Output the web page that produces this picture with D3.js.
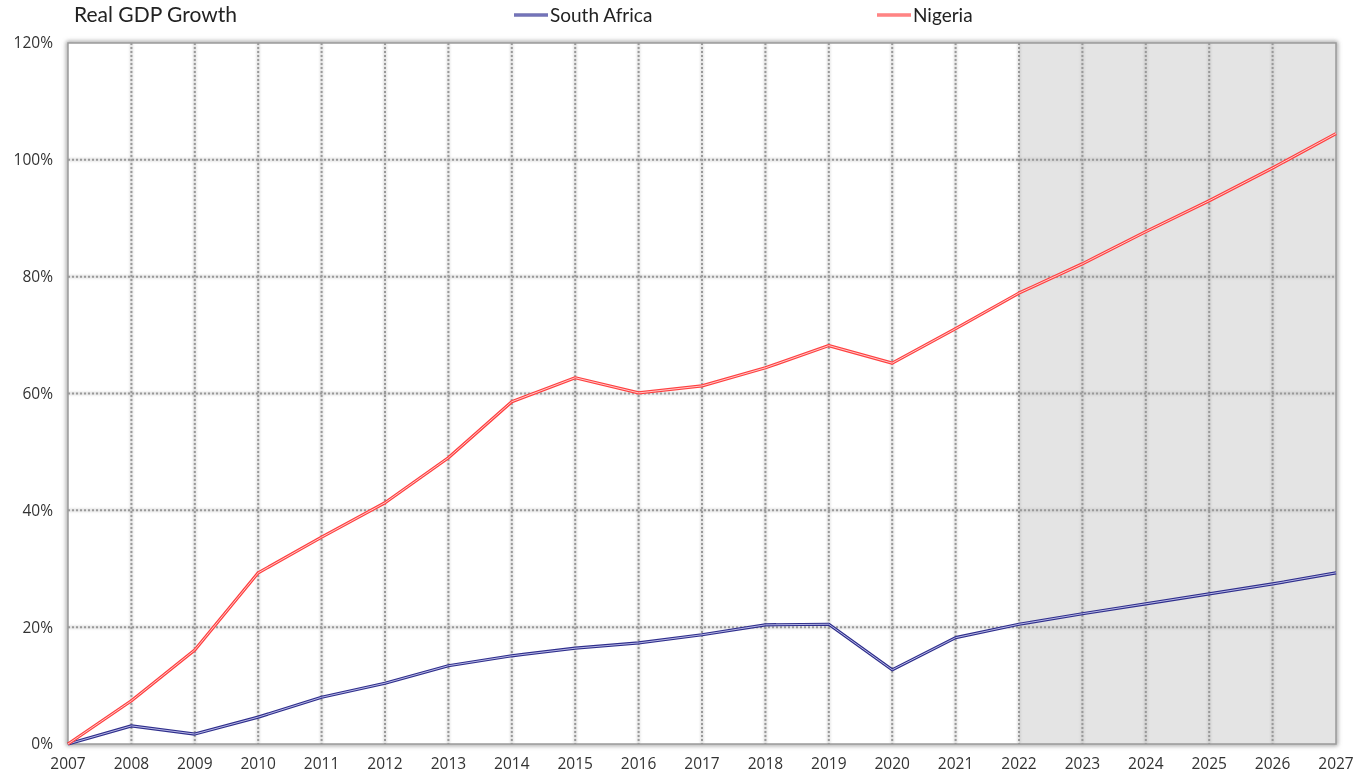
<!DOCTYPE html>
<html><head><meta charset="utf-8">
<script src="https://cdn.jsdelivr.net/npm/d3@7"></script>
<style>
body{margin:0;background:#fff;}
text{font-family:"Open Sans","Noto Sans",sans-serif;fill:#333;}
.hd{font-family:Lato,"Open Sans",sans-serif;fill:#222;}
</style></head>
<body><svg id="c" width="1356" height="773"></svg>
<script>
const years = d3.range(2007, 2028);
const southAfrica = [0,3.1,1.7,4.6,8.0,10.4,13.4,15.1,16.4,17.3,18.7,20.4,20.5,12.7,18.2,20.5,22.3,24.0,25.7,27.4,29.3];
const nigeria = [0,7.4,16.1,29.3,35.4,41.3,49.0,58.6,62.7,60.1,61.3,64.4,68.2,65.2,71.1,77.2,82.2,87.7,93.0,98.6,104.5];
const yTicks = [0,20,40,60,80,100,120];
const forecastStart = 2022;
const title = "Real GDP Growth";
const seriesNames = ["South Africa","Nigeria"];

const svg = d3.select("#c");
const L=68,R=1336,T=43,B=744;
const x = d3.scaleLinear().domain([2007,2027]).range([L,R]);
const y = d3.scaleLinear().domain([0,120]).range([B,T]);

const defs = svg.append("defs");
const f = defs.append("filter").attr("id","sh").attr("x","-5%").attr("y","-5%").attr("width","110%").attr("height","110%");
f.append("feGaussianBlur").attr("stdDeviation",2);
const f2 = defs.append("filter").attr("id","sh2").attr("x","-20%").attr("y","-20%").attr("width","140%").attr("height","140%");
f2.append("feGaussianBlur").attr("stdDeviation",1.2);

svg.append("rect").attr("x",L).attr("y",T).attr("width",R-L).attr("height",B-T)
  .attr("fill","none").attr("stroke","#888").attr("stroke-width",3).attr("filter","url(#sh)");
svg.append("rect").attr("x",L).attr("y",T).attr("width",R-L).attr("height",B-T).attr("fill","#fff");
svg.append("rect").attr("x",x(forecastStart)).attr("y",T).attr("width",x(2027)-x(forecastStart)).attr("height",B-T).attr("fill","#e4e4e4");

const g = svg.append("g");
const vx = years.slice(1,-1);
const hy = yTicks.slice(1,-1);
[{f:"url(#sh2)",c:"#aaa",w:3,da:null},{f:null,c:"#999",w:2,da:"2,2"}].forEach(s=>{
  const gg = g.append("g").attr("filter",s.f);
  gg.selectAll(".v").data(vx).join("line").attr("x1",d=>x(d)).attr("x2",d=>x(d)).attr("y1",T).attr("y2",B)
    .attr("stroke",s.c).attr("stroke-width",s.w).attr("stroke-dasharray",s.da).attr("opacity",s.f?0.4:1);
  gg.selectAll(".h").data(hy).join("line").attr("y1",d=>y(d)).attr("y2",d=>y(d)).attr("x1",L).attr("x2",R)
    .attr("stroke",s.c).attr("stroke-width",s.w).attr("stroke-dasharray",s.da).attr("opacity",s.f?0.4:1);
});
svg.append("rect").attr("x",L).attr("y",T).attr("width",R-L).attr("height",B-T)
  .attr("fill","none").attr("stroke","#9a9a9a").attr("stroke-width",1.5);

svg.append("g").selectAll("text").data(yTicks).join("text")
  .attr("x",53).attr("y",d=>y(d)).attr("dy","0.35em").attr("text-anchor","end").attr("font-size",15.5).text(d=>d+"%");
svg.append("g").selectAll("text").data(years).join("text")
  .attr("x",d=>x(d)).attr("y",764).attr("dy","0.35em").attr("text-anchor","middle").attr("font-size",15.5).text(d=>d);

const line = d3.line().x((d,i)=>x(years[i])).y(d=>y(d));
function dbl(data, outer, inner){
  svg.append("path").attr("d",line(data)).attr("fill","none").attr("stroke",outer).attr("stroke-width",3.2).attr("stroke-linejoin","round");
  svg.append("path").attr("d",line(data)).attr("fill","none").attr("stroke",inner).attr("stroke-width",1).attr("stroke-linejoin","round");
}
dbl(southAfrica,"#2e2e8c","#b8b8e6");
dbl(nigeria,"#ff4040","#ffc8c8");

svg.append("text").attr("class","hd").attr("x",74).attr("y",22).attr("font-size",21).text(title);
function leg(x1,x2,outer,inner,name){
  svg.append("line").attr("x1",x1).attr("x2",x2).attr("y1",15).attr("y2",15).attr("stroke",outer).attr("stroke-width",3.2);
  svg.append("line").attr("x1",x1).attr("x2",x2).attr("y1",15).attr("y2",15).attr("stroke",inner).attr("stroke-width",1);
  svg.append("text").attr("class","hd").attr("x",x2+2).attr("y",22).attr("font-size",19).text(name);
}
leg(514,548,"#2e2e8c","#b8b8e6",seriesNames[0]);
leg(877,911,"#ff4040","#ffc8c8",seriesNames[1]);
</script></body></html>
